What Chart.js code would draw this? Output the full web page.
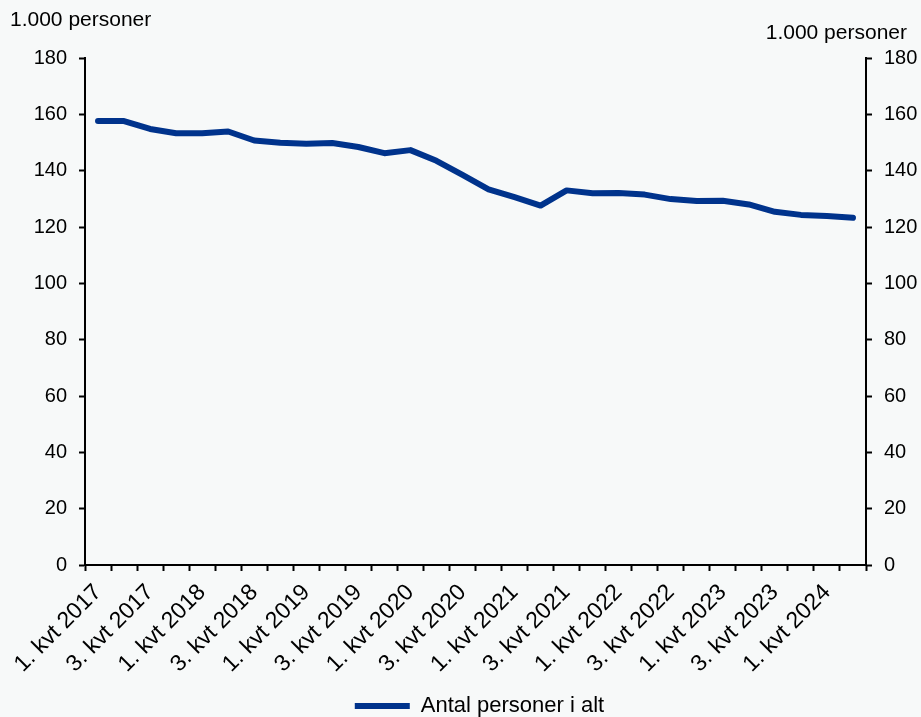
<!DOCTYPE html>
<html>
<head>
<meta charset="utf-8">
<script src="https://cdn.jsdelivr.net/npm/chart.js@4"></script>
<style>
  html, body { margin: 0; padding: 0; background: #f7f9f9; }
  #wrap { width: 921px; height: 717px; }
</style>
</head>
<body>
<div id="wrap"><canvas id="chartPersoner"></canvas></div>
<script>
// Data
const kvartaler = [
  '1. kvt 2017', '2. kvt 2017', '3. kvt 2017', '4. kvt 2017',
  '1. kvt 2018', '2. kvt 2018', '3. kvt 2018', '4. kvt 2018',
  '1. kvt 2019', '2. kvt 2019', '3. kvt 2019', '4. kvt 2019',
  '1. kvt 2020', '2. kvt 2020', '3. kvt 2020', '4. kvt 2020',
  '1. kvt 2021', '2. kvt 2021', '3. kvt 2021', '4. kvt 2021',
  '1. kvt 2022', '2. kvt 2022', '3. kvt 2022', '4. kvt 2022',
  '1. kvt 2023', '2. kvt 2023', '3. kvt 2023', '4. kvt 2023',
  '1. kvt 2024', '2. kvt 2024'
];
const antalPersoner = [
  157.6, 157.6, 154.8, 153.3, 153.3, 153.9, 150.7, 149.9, 149.6, 149.8,
  148.4, 146.2, 147.3, 143.5, 138.5, 133.4, 130.6, 127.6, 133.0, 132.0,
  132.1, 131.5, 129.9, 129.2, 129.3, 128.0, 125.4, 124.3, 123.9, 123.3
];
const yMin = 0, yMax = 180, yStep = 20;
const enhed = '1.000 personer';

const fontFam = '"Liberation Sans", Arial, sans-serif';
const blaa = '#00338c';

// titler over akserne
const enhedTitler = {
  id: 'enhedTitler',
  afterDraw(chart) {
    const ctx = chart.ctx;
    ctx.save();
    ctx.fillStyle = '#000';
    ctx.font = '21px ' + fontFam;
    ctx.textBaseline = 'middle';
    ctx.textAlign = 'left';
    ctx.fillText(enhed, 10, 20);
    ctx.textAlign = 'right';
    ctx.fillText(enhed, 907, 33);
    ctx.restore();
  }
};

const aksefarve = '#000';
const ctxPersoner = document.getElementById('chartPersoner').getContext('2d');
new Chart(ctxPersoner, {
  type: 'line',
  data: {
    labels: kvartaler,
    datasets: [{
      label: 'Antal personer i alt',
      data: antalPersoner,
      borderColor: blaa,
      backgroundColor: blaa,
      borderWidth: 6,
      borderCapStyle: 'round',
      borderJoinStyle: 'round',
      pointRadius: 0,
      tension: 0,
      yAxisID: 'y'
    }]
  },
  options: {
    responsive: true,
    maintainAspectRatio: false,
    animation: false,
    // negativ højre padding skubber legenden mod midten af plotområdet
    layout: { padding: { top: 58, left: 0, right: -38, bottom: -10 } },
    plugins: {
      legend: {
        position: 'bottom',
        labels: {
          usePointStyle: true,
          pointStyle: 'line',
          pointStyleWidth: 55,
          color: '#000',
          font: { size: 22, family: fontFam }
        }
      },
      tooltip: { enabled: false }
    },
    scales: {
      x: {
        offset: true,
        grid: { display: true, drawOnChartArea: false, offset: true, tickLength: 6, tickColor: aksefarve, tickWidth: 2 },
        border: { color: aksefarve, width: 2 },
        ticks: {
          autoSkip: false,
          maxRotation: 45,
          minRotation: 45,
          padding: 8,
          color: '#000',
          font: { size: 23, family: fontFam },
          callback: function (v, i) { return i % 2 === 0 ? this.getLabelForValue(v) : ''; }
        },
        afterFit(s) { s.height = 120; }
      },
      y: {
        position: 'left',
        min: yMin, max: yMax,
        grid: { display: true, drawOnChartArea: false, tickLength: 6, tickColor: aksefarve, tickWidth: 2 },
        border: { color: aksefarve, width: 2 },
        ticks: { stepSize: yStep, padding: 12, color: '#000', font: { size: 20, family: fontFam } },
        afterFit(s) { s.width = 85; }
      },
      y2: {
        position: 'right',
        min: yMin, max: yMax,
        grid: { display: true, drawOnChartArea: false, tickLength: 6, tickColor: aksefarve, tickWidth: 2 },
        border: { color: aksefarve, width: 2 },
        ticks: { stepSize: yStep, padding: 12, color: '#000', font: { size: 20, family: fontFam } },
        afterFit(s) { s.width = 93; }
      }
    }
  },
  plugins: [enhedTitler]
});
</script>
</body>
</html>
